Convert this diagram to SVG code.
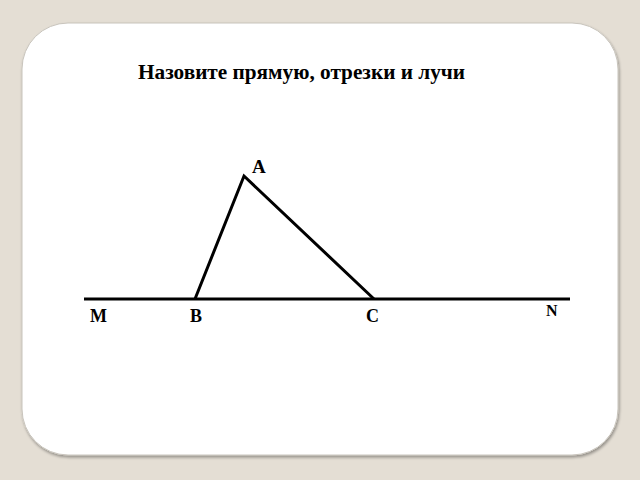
<svg xmlns="http://www.w3.org/2000/svg" width="640" height="480" viewBox="0 0 640 480">
<style>
.lbl{font-family:"Liberation Serif","Times New Roman",serif;font-weight:bold;fill:#000}
.seg{stroke:#000;stroke-width:3;fill:none;stroke-linecap:butt;stroke-linejoin:miter}
</style>
<defs>
<filter id="sh" x="-5%" y="-5%" width="110%" height="110%">
<feGaussianBlur in="SourceAlpha" stdDeviation="1.5"/>
<feOffset dx="1" dy="2"/>
<feComponentTransfer><feFuncA type="linear" slope="0.35"/></feComponentTransfer>
<feMerge><feMergeNode/><feMergeNode in="SourceGraphic"/></feMerge>
</filter>
</defs>
<rect x="0" y="0" width="640" height="480" fill="#e4ded4"/>
<rect x="22" y="23" width="596" height="432" rx="46" ry="46" fill="#fff" stroke="#c8c4bc" stroke-width="1" filter="url(#sh)"/>
<text id="title" class="lbl" x="138" y="79" font-size="20" textLength="327" lengthAdjust="spacingAndGlyphs">Назовите прямую, отрезки и лучи</text>
<g id="connectors">
<line class="seg" x1="84" y1="299" x2="570" y2="299"/>
<polyline class="seg" points="195,299 244,176 374,299"/>
</g>
<g id="A"><text class="lbl" x="252" y="173" font-size="19">A</text></g>
<g id="M"><text class="lbl" x="90" y="322" font-size="18">M</text></g>
<g id="B"><text class="lbl" x="190" y="322" font-size="18">B</text></g>
<g id="C"><text class="lbl" x="366" y="322" font-size="18">C</text></g>
<g id="N"><text class="lbl" x="546" y="316" font-size="16">N</text></g>
</svg>
